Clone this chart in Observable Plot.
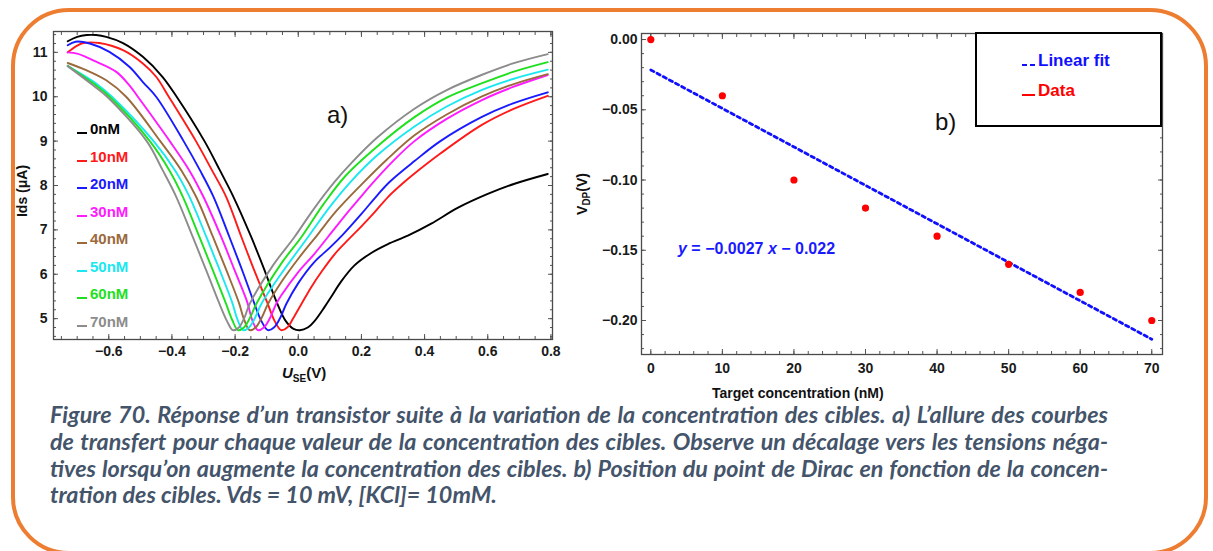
<!DOCTYPE html>
<html><head><meta charset="utf-8">
<script src="https://cdn.jsdelivr.net/npm/d3@7"></script>
<script src="https://cdn.jsdelivr.net/npm/@observablehq/plot@0.6"></script>
<style>
html,body{margin:0;padding:0;background:#fff;}
body{width:1213px;height:551px;overflow:hidden;position:relative;font-family:"Liberation Sans",Arial,sans-serif;}
#border{position:absolute;left:11px;top:8px;width:1197px;height:547px;border:4px solid #ED7D31;border-radius:58px;box-sizing:border-box;}
.abs{position:absolute;white-space:nowrap;}
#leftChart{position:absolute;left:0;top:0;}
#rightChart{position:absolute;left:600px;top:0;}
.leg{position:absolute;left:77px;font-weight:bold;font-size:15px;line-height:15px;}
.leg .sw{display:inline-block;width:10px;height:2px;margin-right:3px;vertical-align:baseline;}
.rot{position:absolute;transform:translate(-50%,-50%) rotate(-90deg);font-weight:bold;white-space:nowrap;color:#111;}
.cap{position:absolute;left:50px;white-space:nowrap;font-family:Lato,"Open Sans","Noto Sans",sans-serif;font-weight:bold;font-style:italic;color:#44546A;font-size:20px;line-height:1;}
</style></head>
<body>
<div id="border"></div>
<div id="leftChart"></div>
<div id="rightChart"></div>
<script>
// ---- Panel a) transfer curves: [U_SE (V), Ids (µA)] ----
const curve0nM = [[-0.73,11.25],[-0.70,11.35],[-0.67,11.39],[-0.64,11.39],[-0.608,11.35],[-0.555,11.21],[-0.492,10.90],[-0.43,10.45],[-0.385,10.0],[-0.297,9.0],[-0.248,8.34],[-0.205,7.74],[-0.149,6.84],[-0.11,6.15],[-0.07,5.40],[-0.04,4.95],[-0.015,4.77],[0.005,4.74],[0.03,4.80],[0.052,4.95],[0.083,5.26],[0.105,5.50],[0.136,5.84],[0.178,6.20],[0.231,6.48],[0.284,6.68],[0.347,6.87],[0.421,7.14],[0.506,7.50],[0.60,7.81],[0.685,8.04],[0.79,8.26]];
const curve10nM = [[-0.73,11.0],[-0.70,11.15],[-0.68,11.21],[-0.63,11.21],[-0.555,11.05],[-0.492,10.75],[-0.45,10.45],[-0.41,10.0],[-0.324,9.0],[-0.273,8.34],[-0.228,7.74],[-0.18,6.84],[-0.139,6.08],[-0.098,5.36],[-0.075,4.95],[-0.054,4.74],[-0.035,4.80],[-0.015,5.02],[0.01,5.33],[0.041,5.71],[0.073,6.05],[0.115,6.45],[0.16,6.79],[0.20,7.08],[0.242,7.40],[0.284,7.74],[0.331,8.05],[0.368,8.27],[0.45,8.72],[0.58,9.36],[0.68,9.72],[0.79,10.02]];
const curve20nM = [[-0.73,11.16],[-0.705,11.24],[-0.66,11.20],[-0.598,11.01],[-0.534,10.67],[-0.492,10.33],[-0.45,10.0],[-0.363,9.0],[-0.311,8.34],[-0.268,7.74],[-0.218,6.84],[-0.177,6.08],[-0.14,5.36],[-0.117,4.95],[-0.096,4.74],[-0.077,4.80],[-0.057,5.02],[-0.038,5.33],[0.0,5.80],[0.05,6.27],[0.10,6.60],[0.142,6.90],[0.2,7.36],[0.25,7.78],[0.289,8.08],[0.368,8.55],[0.45,9.0],[0.58,9.54],[0.68,9.85],[0.79,10.10]];
const curve30nM = [[-0.73,11.0],[-0.70,10.97],[-0.64,10.79],[-0.576,10.56],[-0.534,10.25],[-0.508,10.0],[-0.407,9.0],[-0.345,8.34],[-0.30,7.74],[-0.244,6.84],[-0.201,6.08],[-0.161,5.36],[-0.146,4.97],[-0.128,4.74],[-0.109,4.80],[-0.089,5.02],[-0.07,5.33],[-0.054,5.52],[0.0,6.05],[0.05,6.45],[0.094,6.84],[0.157,7.40],[0.2,7.76],[0.231,8.02],[0.30,8.55],[0.368,9.0],[0.47,9.5],[0.58,9.92],[0.68,10.22],[0.79,10.49]];
const curve40nM = [[-0.73,10.76],[-0.672,10.60],[-0.608,10.37],[-0.545,10.0],[-0.437,9.0],[-0.37,8.34],[-0.323,7.74],[-0.27,6.84],[-0.227,6.08],[-0.188,5.36],[-0.171,4.97],[-0.154,4.74],[-0.135,4.80],[-0.115,5.03],[-0.096,5.33],[-0.054,5.82],[0.0,6.35],[0.062,6.90],[0.12,7.42],[0.2,8.02],[0.28,8.58],[0.368,9.13],[0.47,9.6],[0.58,10.0],[0.68,10.28],[0.79,10.51]];
const curve50nM = [[-0.73,10.69],[-0.64,10.30],[-0.59,10.0],[-0.458,9.0],[-0.39,8.34],[-0.344,7.74],[-0.291,6.84],[-0.248,6.08],[-0.209,5.36],[-0.192,4.97],[-0.175,4.74],[-0.156,4.80],[-0.136,5.03],[-0.117,5.33],[-0.054,6.01],[0.031,6.84],[0.1,7.52],[0.168,8.10],[0.25,8.68],[0.368,9.33],[0.47,9.78],[0.58,10.15],[0.68,10.4],[0.79,10.61]];
const curve60nM = [[-0.73,10.70],[-0.645,10.28],[-0.597,10.0],[-0.47,9.0],[-0.408,8.34],[-0.365,7.74],[-0.313,6.84],[-0.27,6.08],[-0.23,5.36],[-0.209,4.97],[-0.191,4.74],[-0.172,4.80],[-0.152,5.03],[-0.133,5.33],[-0.054,6.24],[0.01,6.84],[0.08,7.58],[0.15,8.22],[0.25,8.88],[0.368,9.54],[0.47,9.98],[0.58,10.30],[0.68,10.56],[0.79,10.78]];
const curve70nM = [[-0.73,10.69],[-0.65,10.26],[-0.605,10.0],[-0.48,9.0],[-0.429,8.34],[-0.386,7.74],[-0.334,6.84],[-0.291,6.08],[-0.251,5.36],[-0.226,4.95],[-0.207,4.74],[-0.188,4.80],[-0.17,5.03],[-0.154,5.33],[-0.08,6.2],[-0.012,6.84],[0.05,7.48],[0.115,8.08],[0.17,8.52],[0.25,9.08],[0.368,9.73],[0.47,10.15],[0.58,10.49],[0.68,10.75],[0.79,10.96]];
const seriesNames = ["0nM","10nM","20nM","30nM","40nM","50nM","60nM","70nM"];
const seriesColors = ["#000000","#ff1a1a","#1a1aff","#ff1aff","#9a6a3c","#1ae8f0","#1ee01e","#8c8c8c"];
const xTicksA = [-0.6,-0.4,-0.2,0,0.2,0.4,0.6,0.8];
const yTicksA = [5,6,7,8,9,10,11];

// ---- Panel b) Dirac point vs concentration ----
const concentration = [0,10,20,30,40,50,60,70];
const vdp = [0,-0.04,-0.10,-0.12,-0.14,-0.16,-0.18,-0.20];
const xTicksB = [0,10,20,30,40,50,60,70];
const yTicksB = [0,-0.05,-0.10,-0.15,-0.20];

const curves = [curve0nM,curve10nM,curve20nM,curve30nM,curve40nM,curve50nM,curve60nM,curve70nM];
const rowsA = curves.flatMap((c,i)=>c.map(([x,y])=>({x,y,s:seriesNames[i]})));
const rowsB = concentration.map((c,i)=>({c,v:vdp[i]}));
const minus = s => s.replace("-","\u2212");
const blank = () => "";
const tickCol = "#555";
const fontStyle = {fontFamily:"'Liberation Sans',Arial,sans-serif",fontSize:"14px",fontWeight:"bold",color:"#1a1a1a",background:"transparent",overflow:"visible"};

const xMinorA = d3.range(-15,17).map(d=>d*0.05);
const yMinorA = d3.range(23,58).map(d=>d*0.2);

const left = Plot.plot({
  width:580,height:400,marginLeft:53,marginRight:28,marginTop:31,marginBottom:61,
  x:{domain:[-0.775,0.805]},
  y:{domain:[4.53,11.47]},
  color:{domain:seriesNames,range:seriesColors},
  style:fontStyle,
  marks:[
    Plot.axisX(xMinorA,{anchor:"bottom",tickSize:-3,tickFormat:blank,label:null,stroke:tickCol}),
    Plot.axisX(xMinorA,{anchor:"top",tickSize:-3,tickFormat:blank,label:null,stroke:tickCol}),
    Plot.axisX(xTicksA,{anchor:"bottom",tickSize:-5,tickPadding:12,tickFormat:d=>minus(d.toFixed(1)),label:null,stroke:tickCol}),
    Plot.axisX(xTicksA,{anchor:"top",tickSize:-5,tickFormat:blank,label:null,stroke:tickCol}),
    Plot.axisY(yMinorA,{anchor:"left",tickSize:-3,tickFormat:blank,label:null,stroke:tickCol}),
    Plot.axisY(yMinorA,{anchor:"right",tickSize:-3,tickFormat:blank,label:null,stroke:tickCol}),
    Plot.axisY(yTicksA,{anchor:"left",tickSize:-5,tickPadding:11,tickFormat:d=>String(d),label:null,stroke:tickCol}),
    Plot.axisY(yTicksA,{anchor:"right",tickSize:-5,tickFormat:blank,label:null,stroke:tickCol}),
    Plot.line(rowsA,{x:"x",y:"y",z:"s",stroke:"s",strokeWidth:1.9,curve:"catmull-rom"}),
    Plot.frame({stroke:"#4a4a4a",strokeWidth:1.3})
  ]
});
document.getElementById("leftChart").appendChild(left);

const xMinorB = d3.range(0,36).map(d=>d*2);
const yMinorB = d3.range(-22,1).map(d=>d/100);
const right = Plot.plot({
  width:613,height:400,marginLeft:41,marginRight:51,marginTop:33,marginBottom:46,
  x:{domain:[-1.3,71.5]},
  y:{domain:[-0.2242,0.0043]},
  style:fontStyle,
  marks:[
    Plot.axisX(xMinorB,{anchor:"bottom",tickSize:-3,tickFormat:blank,label:null,stroke:tickCol}),
    Plot.axisX(xMinorB,{anchor:"top",tickSize:-3,tickFormat:blank,label:null,stroke:tickCol}),
    Plot.axisX(xTicksB,{anchor:"bottom",tickSize:-5,tickPadding:14,tickFormat:d=>String(d),label:null,stroke:tickCol}),
    Plot.axisX(xTicksB,{anchor:"top",tickSize:-5,tickFormat:blank,label:null,stroke:tickCol}),
    Plot.axisY(yMinorB,{anchor:"left",tickSize:-3,tickFormat:blank,label:null,stroke:tickCol}),
    Plot.axisY(yMinorB,{anchor:"right",tickSize:-3,tickFormat:blank,label:null,stroke:tickCol}),
    Plot.axisY(yTicksB,{anchor:"left",tickSize:-5,tickPadding:9,tickFormat:d=>minus(d.toFixed(2)),label:null,stroke:tickCol}),
    Plot.axisY(yTicksB,{anchor:"right",tickSize:-5,tickFormat:blank,label:null,stroke:tickCol}),
    Plot.linearRegressionY(rowsB,{x:"c",y:"v",ci:0,stroke:"#1010ff",strokeWidth:2.8,strokeDasharray:"3.5,3.5"}),
    Plot.dot(rowsB,{x:"c",y:"v",r:3.6,fill:"#ff0000",stroke:"none"}),
    Plot.frame({stroke:"#4a4a4a",strokeWidth:1.3})
  ]
});
document.getElementById("rightChart").appendChild(right);

// ---- overlays (legends, labels) ----
const add = (html, style, cls) => { const d=document.createElement("div"); d.className=cls||"abs"; d.innerHTML=html; Object.assign(d.style,style); document.body.appendChild(d); return d; };
const legendBase = [121,149,176,204,231,259,286,314];
seriesNames.forEach((n,i)=>{
  add(`<span class="sw" style="background:${seriesColors[i]}"></span><span style="color:${seriesColors[i]}">${n}</span>`,{top:legendBase[i]+"px"},"leg");
});
add("a)",{left:"327px",top:"101px",fontSize:"24px",color:"#111"});
add("b)",{left:"935px",top:"108px",fontSize:"24px",color:"#111"});
add("Ids (\u03bcA)",{left:"22px",top:"191px",fontSize:"14px"},"rot");
add("V<sub style='font-size:10px'>DP</sub>(V)",{left:"583px",top:"194px",fontSize:"14px"},"rot");
add("<i>U</i><sub style='font-size:10px'>SE</sub>(V)",{left:"282px",top:"364px",fontSize:"15px",fontWeight:"bold",color:"#111"});
add("Target concentration (nM)",{left:"712px",top:"385px",fontSize:"14px",fontWeight:"bold",color:"#111"});
add("<i>y</i> = \u22120.0027 <i>x</i> \u2212 0.022",{left:"678px",top:"240px",fontSize:"16px",fontWeight:"bold",color:"#1a1aff"});
// legend box panel b
add("",{left:"975px",top:"32px",width:"187px",height:"95px",border:"2.5px solid #000",boxSizing:"border-box",background:"#fff"});
add(`<span style="display:inline-block;width:13px;height:2.5px;margin-right:3px;background:repeating-linear-gradient(to right,#1010ff 0 5px,transparent 5px 8px)"></span>Linear fit`,{left:"1022px",top:"51px",fontSize:"17px",fontWeight:"bold",color:"#1010ff"});
add(`<span style="display:inline-block;width:13px;height:2.5px;margin-right:3px;background:#ff0000"></span>Data`,{left:"1022px",top:"81px",fontSize:"17px",fontWeight:"bold",color:"#ff0000"});

// ---- caption ----
const captionLines = [
  "Figure 70. Réponse d\u2019un transistor suite à la variation de la concentration des cibles. a) L\u2019allure des courbes",
  "de transfert pour chaque valeur de la concentration des cibles. Observe un décalage vers les tensions néga-",
  "tives lorsqu\u2019on augmente la concentration des cibles. b) Position du point de Dirac en fonction de la concen-",
  "tration des cibles. Vds = 10 mV, [KCl]= 10mM."
];
const capBase = [424,451,477.5,504];
const capEls = captionLines.map((t,i)=>add(t,{},"cap"));
const w4 = capEls[3].getBoundingClientRect().width;
const fs = 20 * 447 / w4;
capEls.forEach((e,i)=>{ e.style.fontSize = fs+"px"; e.style.top = (capBase[i] - 0.887*fs)+"px"; });
capEls.slice(0,3).forEach((e,i)=>{
  const w = e.getBoundingClientRect().width;
  const spaces = (captionLines[i].match(/ /g)||[]).length;
  e.style.wordSpacing = ((1058 - w)/spaces)+"px";
});
</script>
</body></html>
